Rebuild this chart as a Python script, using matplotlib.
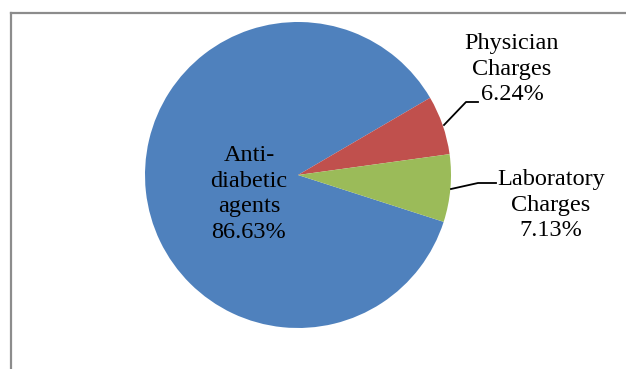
import matplotlib.pyplot as plt
from matplotlib.lines import Line2D

labels = ["Anti-\ndiabetic\nagents", "Physician\nCharges", "Laboratory\nCharges"]
shares = [86.63, 6.24, 7.13]
colors = ["#4F81BD", "#C0504D", "#9BBB59"]

W, H = 626, 369

fig = plt.figure(figsize=(W / 100, H / 100), dpi=100)
ax = fig.add_axes([0, 0, 1, 1])

# chart area border (only left and top visible in the crop)
fig.add_artist(Line2D([11 / W, 11 / W], [0, 1 - 13 / H], color="#8c8c8c", lw=1.6))
fig.add_artist(Line2D([11 / W, 1], [1 - 13 / H, 1 - 13 / H], color="#8c8c8c", lw=1.6))

# blue slice ends at ~30 deg, drawn clockwise like Excel
start = 30.3 + shares[0] * 3.6
ax.pie(shares, colors=colors, startangle=start, counterclock=False,
       center=(298, H - 175), radius=153, frame=True,
       wedgeprops=dict(linewidth=0))
ax.set_xlim(0, W)
ax.set_ylim(0, H)
ax.set_aspect("equal")
ax.axis("off")

font = dict(family="Liberation Serif", fontsize=17.5, color="black",
            ha="center", va="center", linespacing=1.3)

ax.text(249, H - 194, labels[0] + "\n%.2f%%" % shares[0], **font)
ax.text(512, H - 69, labels[1] + "\n%.2f%%" % shares[1], **font)
ax.text(551, H - 205, labels[2] + "\n%.2f%%" % shares[2], **font)

# leader lines
ax.plot([444, 466, 478], [H - 125, H - 102, H - 102], color="black", lw=1.3)
ax.plot([451, 478, 496], [H - 189, H - 183, H - 183], color="black", lw=1.3)

fig.savefig("out.png", dpi=100)
plt.close(fig)
